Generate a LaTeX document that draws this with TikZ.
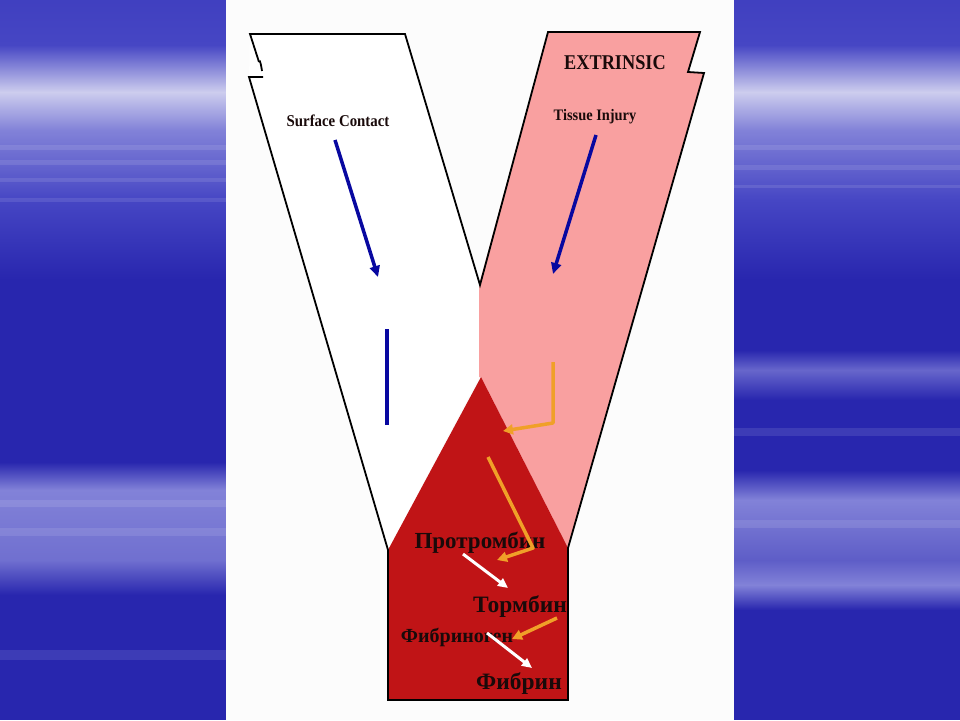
\documentclass[tikz,border=0pt]{standalone}
\usepackage{fontspec}
\setmainfont{Liberation Serif}
\usetikzlibrary{arrows.meta}
\definecolor{bgdark}{RGB}{40,38,174}
\definecolor{bgmid}{RGB}{70,70,196}
\definecolor{bglight}{RGB}{205,205,238}
\definecolor{bgstreak}{RGB}{130,130,216}
\definecolor{pinkfill}{RGB}{249,160,160}
\definecolor{redfill}{RGB}{192,20,22}
\definecolor{arrowblue}{RGB}{8,8,160}
\definecolor{arroworange}{RGB}{240,160,40}
\definecolor{txt}{RGB}{25,10,10}
\definecolor{panel}{RGB}{252,252,252}
\tikzset{
  outline/.style={draw=black, line width=1.8pt, line join=miter},
  bluearr/.style={draw=arrowblue, line width=3.5pt, -{Triangle[length=11pt,width=10pt]}},
  blueline/.style={draw=arrowblue, line width=3.5pt},
  orangearr/.style={draw=arroworange, line width=3.5pt, line join=round, -{Triangle[length=10pt,width=10pt]}},
  whitearr/.style={draw=white, line width=3pt, -{Triangle[length=10pt,width=9pt]}},
  lbl/.style={inner sep=0pt, text=txt, font=\bfseries},
  streak/.style={fill=white, opacity=0.1}
}
\begin{document}
\begin{tikzpicture}[x=1pt,y=-1pt]
\useasboundingbox (0,0) rectangle (960,720);
% ---------- side panels ----------
\foreach \xa/\xb in {0/226,734/960}{
  \fill[bgdark] (\xa,0) rectangle (\xb,720);
  \shade[top color=bgmid!80!bgdark, bottom color=bgmid] (\xa,0) rectangle (\xb,45);
  \shade[top color=bgmid, bottom color=bglight] (\xa,45) rectangle (\xb,92);
  \shade[top color=bglight, bottom color=bgstreak] (\xa,92) rectangle (\xb,130);
  \shade[top color=bgstreak, bottom color=bgmid] (\xa,130) rectangle (\xb,200);
  \shade[top color=bgmid, bottom color=bgdark] (\xa,200) rectangle (\xb,280);
}
% left panel streaks
\shade[top color=bgdark, bottom color=bgstreak] (0,462) rectangle (226,490);
\shade[top color=bgstreak, bottom color=bgstreak!80!bgdark] (0,490) rectangle (226,560);
\shade[top color=bgstreak!80!bgdark, bottom color=bgdark] (0,560) rectangle (226,595);
\foreach \ya/\yb in {145/150,160/165,178/182,198/202,500/507,528/536,650/660}{
  \fill[streak] (0,\ya) rectangle (226,\yb);}
% right panel streaks
\shade[top color=bgdark, bottom color=bgstreak!70!bgdark] (734,350) rectangle (960,370);
\shade[top color=bgstreak!70!bgdark, bottom color=bgdark] (734,370) rectangle (960,400);
\shade[top color=bgdark, bottom color=bgstreak] (734,470) rectangle (960,500);
\shade[top color=bgstreak, bottom color=bgstreak!60!bgdark] (734,500) rectangle (960,560);
\shade[top color=bgstreak!60!bgdark, bottom color=bgstreak] (734,560) rectangle (960,585);
\shade[top color=bgstreak, bottom color=bgdark] (734,585) rectangle (960,610);
\foreach \ya/\yb in {145/150,165/170,185/188,428/436,520/528}{
  \fill[streak] (734,\ya) rectangle (960,\yb);}
% ---------- centre panel ----------
\fill[panel] (226,0) rectangle (734,720);
% ---------- Y fills ----------
\fill[white] (250,34) -- (405,34) -- (479,285) -- (479,377) -- (388,550) -- (249,77) -- cycle;
\fill[pinkfill] (548,32) -- (700,32) -- (688,72) -- (704,73) -- (568,548) -- (481,377) -- (479,377) -- (479,285) -- cycle;
\fill[redfill] (481,377) -- (568,548) -- (568,700) -- (388,700) -- (388,550) -- cycle;
% ---------- Y outline ----------
\draw[outline] (259,62) -- (250,34) -- (405,34) -- (480,285) -- (548,32) -- (700,32)
   -- (688,72) -- (704,73) -- (568,548) -- (568,700) -- (388,700) -- (388,550) -- (249,77) -- (263,77);
\draw[outline] (259,62) to[out=70,in=100] (262,71);
% ---------- labels ----------
\node[lbl, font=\bfseries\fontsize{21}{21}\selectfont] (extr) at (615,63) {\scalebox{0.87}[1]{EXTRINSIC}};
\node[lbl, font=\bfseries\fontsize{16.5}{16.5}\selectfont] (surf) at (338,121) {\scalebox{0.9}[1]{Surface Contact}};
\node[lbl, font=\bfseries\fontsize{16}{16}\selectfont] (tiss) at (595,117) {\scalebox{0.9}[1]{Tissue Injury}};
\node[lbl, font=\bfseries\fontsize{23}{23}\selectfont] (pro) at (480,543) {Протромбин};
\node[lbl, font=\bfseries\fontsize{23.5}{23.5}\selectfont] (thr) at (520,607) {Тормбин};
\node[lbl, font=\bfseries\fontsize{20}{20}\selectfont] (fgn) at (457,637) {Фибриноген};
\node[lbl, font=\bfseries\fontsize{23.5}{23.5}\selectfont] (fib) at (519,684) {Фибрин};
% ---------- connectors ----------
\coordinate (b1s) at (335,140); \coordinate (b1e) at (378,277);
\coordinate (b2s) at (596,135); \coordinate (b2e) at (553,274);
\coordinate (bls) at (387,329); \coordinate (ble) at (387,425);
\coordinate (o1s) at (553,362); \coordinate (o1m) at (553,423); \coordinate (o1e) at (503,431);
\coordinate (o2s) at (488,457); \coordinate (o2m) at (533,548); \coordinate (o2e) at (497,560);
\coordinate (o3s) at (557,618); \coordinate (o3e) at (512,639);
\coordinate (w1s) at (463,554); \coordinate (w1e) at (508,588);
\coordinate (w2s) at (487,633); \coordinate (w2e) at (532,668);
\draw[bluearr] (b1s) -- (b1e);
\draw[bluearr] (b2s) -- (b2e);
\draw[blueline] (bls) -- (ble);
\draw[orangearr] (o1s) -- (o1m) -- (o1e);
\draw[orangearr] (o2s) -- (o2m) -- (o2e);
\draw[orangearr] (o3s) -- (o3e);
\draw[whitearr] (w1s) -- (w1e);
\draw[whitearr] (w2s) -- (w2e);
\end{tikzpicture}
\end{document}
